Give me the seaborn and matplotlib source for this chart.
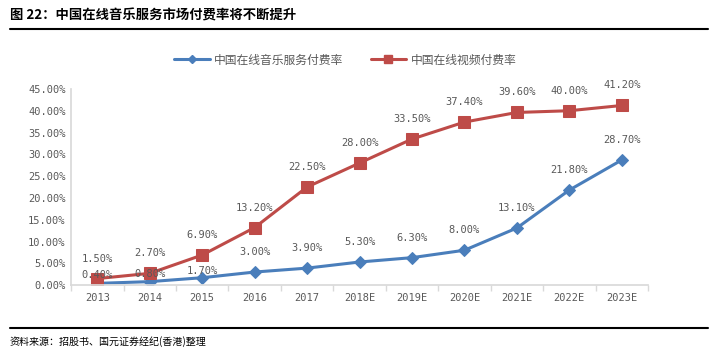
import matplotlib
matplotlib.use("Agg")
import matplotlib.pyplot as plt
import seaborn as sns
import pandas as pd
from matplotlib.lines import Line2D

years = ["2013", "2014", "2015", "2016", "2017", "2018E", "2019E",
         "2020E", "2021E", "2022E", "2023E"]
music_rate = [0.4, 0.8, 1.7, 3.0, 3.9, 5.3, 6.3, 8.0, 13.1, 21.8, 28.7]
video_rate = [1.5, 2.7, 6.9, 13.2, 22.5, 28.0, 33.5, 37.4, 39.6, 40.0, 41.2]
music_name = "中国在线音乐服务付费率"
video_name = "中国在线视频付费率"

sns.set_theme(style="white")
plt.rcParams['font.family'] = ['Noto Sans CJK SC', 'DejaVu Sans']

df = pd.DataFrame({"year": years * 2,
                   "rate": music_rate + video_rate,
                   "series": [music_name] * len(years) + [video_name] * len(years)})
df["x"] = list(range(len(years))) * 2

blue = "#4A7EBB"
red = "#BE4B48"
gray = "#595959"

fig = plt.figure(figsize=(7.18, 3.6), dpi=100)
ax = fig.add_axes([0.099, 0.208, 0.8035, 0.545])

sns.lineplot(data=df[df.series == music_name], x="x", y="rate", color=blue,
             marker="D", markersize=6, markeredgecolor=blue, linewidth=2.2, ax=ax)
sns.lineplot(data=df[df.series == video_name], x="x", y="rate", color=red,
             marker="s", markersize=8, markeredgecolor=red, linewidth=2.2, ax=ax)

lab_font = dict(family=['DejaVu Sans Mono'], size=7.5, color=gray)
# label offsets in pixels above the point (the first blue ones sit lower, as in the source)
music_off = [8, 8, 7, 20, 20, 20, 20, 20, 20, 20, 20]
for i, v in enumerate(music_rate):
    ax.annotate(f"{v:.2f}%", (i, v), xytext=(0, music_off[i] * 0.72), textcoords="offset points",
                ha="center", va="center", **lab_font)
for i, v in enumerate(video_rate):
    ax.annotate(f"{v:.2f}%", (i, v), xytext=(0, 20 * 0.72), textcoords="offset points",
                ha="center", va="center", **lab_font)

ax.set_xlim(-0.5, len(years) - 0.5)
ax.set_ylim(0, 45)
ax.set_yticks(range(0, 46, 5))
ax.set_yticklabels([f"{t:.2f}%" for t in range(0, 46, 5)], **lab_font)
ax.set_xticks(range(len(years)))
ax.set_xticklabels(years, **lab_font)
ax.set_xticks([i - 0.5 for i in range(len(years) + 1)], minor=True)
ax.tick_params(axis="x", which="major", length=0, pad=6)
ax.tick_params(axis="x", which="minor", length=4, color="#D9D9D9", direction="out", bottom=True)
ax.tick_params(axis="y", length=0, pad=4)
ax.set_xlabel("")
ax.set_ylabel("")
for s in ["top", "right"]:
    ax.spines[s].set_visible(False)
ax.spines["left"].set_color("#D9D9D9")
ax.spines["bottom"].set_color("#D9D9D9")

handles = [Line2D([], [], color=blue, marker="D", markersize=4.5, linewidth=2.2),
           Line2D([], [], color=red, marker="s", markersize=6, linewidth=2.2)]
fig.legend(handles, [music_name, video_name], loc="center", bbox_to_anchor=(0.481, 0.833),
           ncol=2, frameon=False, fontsize=8.5, handlelength=3, handletextpad=0.4,
           columnspacing=2.3, labelcolor=gray)

fig.text(0.014, 0.958, "图 22：中国在线音乐服务市场付费率将不断提升", fontsize=9.6,
         fontweight="bold", va="center", ha="left", color="black")
fig.add_artist(Line2D([0.014, 0.986], [0.919, 0.919], color="black", linewidth=1.5))
fig.add_artist(Line2D([0.014, 0.986], [0.089, 0.089], color="black", linewidth=1.5))
fig.text(0.014, 0.05, "资料来源：招股书、国元证券经纪(香港)整理", fontsize=7.2,
         style="italic", va="center", ha="left", color="black")

fig.savefig("out.png", dpi=100)
